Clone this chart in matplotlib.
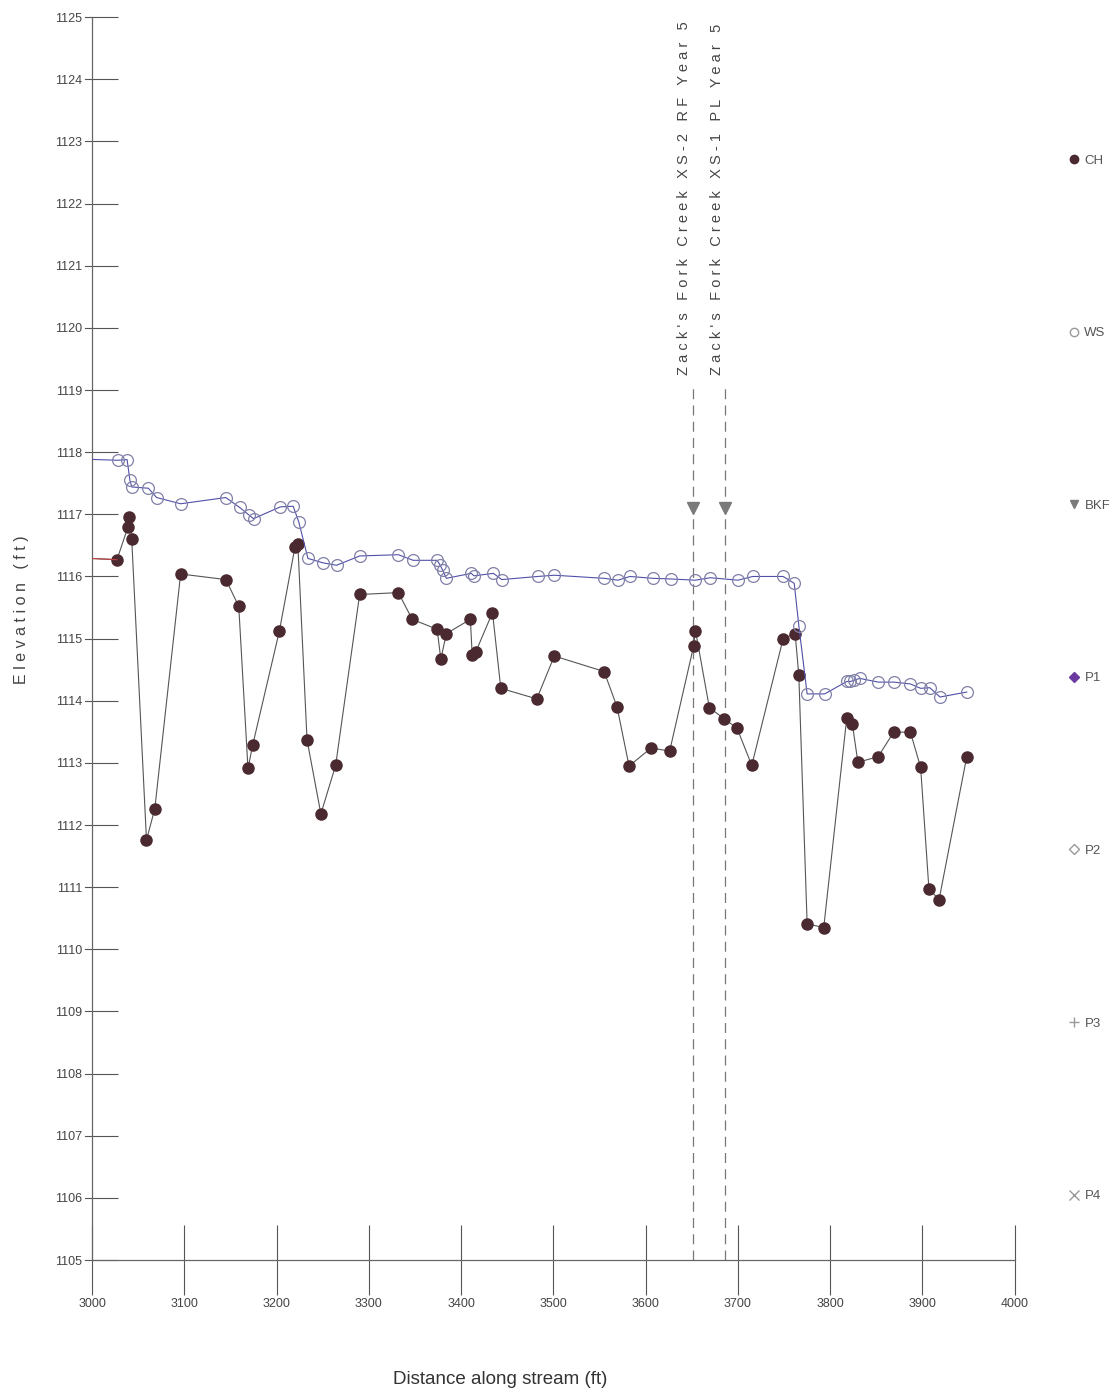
import matplotlib
matplotlib.use("Agg")
import matplotlib.pyplot as plt
from matplotlib import font_manager
from matplotlib.lines import Line2D

# Channel bed (CH) profile
ch_x = [2985, 3027, 3039, 3040, 3043, 3059, 3068, 3096, 3145, 3159, 3169, 3174,
        3203, 3220, 3223, 3233, 3248, 3264, 3290, 3332, 3347, 3374, 3378, 3384,
        3410, 3412, 3416, 3434, 3443, 3482, 3501, 3555, 3569, 3582, 3606, 3626,
        3652, 3654, 3669, 3685, 3699, 3715, 3749, 3762, 3766, 3775, 3793, 3818,
        3824, 3830, 3852, 3869, 3887, 3898, 3907, 3918, 3948]
ch_y = [1116.3, 1116.27, 1116.8, 1116.96, 1116.6, 1111.76, 1112.26, 1116.04,
        1115.95, 1115.52, 1112.91, 1113.28, 1115.12, 1116.48, 1116.53, 1113.37,
        1112.18, 1112.96, 1115.71, 1115.74, 1115.31, 1115.15, 1114.67, 1115.08,
        1115.31, 1114.74, 1114.79, 1115.42, 1114.2, 1114.03, 1114.72, 1114.47,
        1113.9, 1112.95, 1113.24, 1113.19, 1114.88, 1115.13, 1113.89, 1113.71,
        1113.56, 1112.96, 1115.0, 1115.08, 1114.41, 1110.41, 1110.35, 1113.73,
        1113.63, 1113.01, 1113.1, 1113.5, 1113.49, 1112.93, 1110.97, 1110.8,
        1113.1]

# Water surface (WS) profile
ws_x = [2985, 3028, 3038, 3041, 3043, 3061, 3070, 3096, 3145, 3160, 3170, 3175,
        3204, 3218, 3224, 3234, 3250, 3265, 3290, 3332, 3348, 3374, 3377, 3380,
        3384, 3411, 3414, 3435, 3444, 3483, 3501, 3555, 3570, 3583, 3608, 3627,
        3654, 3670, 3700, 3716, 3749, 3761, 3766, 3775, 3794, 3818, 3822, 3826,
        3832, 3852, 3869, 3887, 3898, 3908, 3919, 3948]
ws_y = [1117.89, 1117.87, 1117.88, 1117.55, 1117.44, 1117.42, 1117.27, 1117.17,
        1117.27, 1117.11, 1116.99, 1116.93, 1117.12, 1117.13, 1116.88, 1116.29,
        1116.22, 1116.18, 1116.33, 1116.35, 1116.26, 1116.26, 1116.19, 1116.1,
        1115.97, 1116.05, 1116.01, 1116.05, 1115.95, 1116.0, 1116.02, 1115.97,
        1115.94, 1116.0, 1115.97, 1115.96, 1115.94, 1115.98, 1115.94, 1116.0,
        1116.0, 1115.89, 1115.21, 1114.11, 1114.11, 1114.31, 1114.31, 1114.33,
        1114.36, 1114.3, 1114.3, 1114.27, 1114.2, 1114.21, 1114.06, 1114.14]

# Bankfull markers at the surveyed cross sections
xs_x = [3651, 3686]
xs_bkf = [1117.1, 1117.1]
xs_labels = ["Zack's Fork Creek XS-2 RF Year 5", "Zack's Fork Creek XS-1 PL Year 5"]

legend_labels = ["CH", "WS", "BKF", "P1", "P2", "P3", "P4"]
x_ticks = list(range(3000, 4001, 100))
y_ticks = list(range(1105, 1126))


def pick_font(names):
    for n in names:
        try:
            font_manager.findfont(n, fallback_to_default=False)
            return n
        except Exception:
            pass
    return "DejaVu Sans"


narrow = pick_font(["Liberation Sans Narrow", "Arial Narrow", "Liberation Sans"])
plt.rcParams["font.family"] = [narrow, "DejaVu Sans"]


def spaced(s):
    return " ".join(s)


fig = plt.figure(figsize=(11.09, 13.98), dpi=100)
ax = fig.add_axes([0.083, 0.0987, 0.832, 0.889])

ch_col = "#4a2a30"
ax.plot(ch_x, ch_y, color="#555555", lw=0.8, marker="o", ms=8,
        mfc=ch_col, mec=ch_col, zorder=3, clip_on=True)
ax.plot(ch_x[:2], ch_y[:2], color="#c04040", lw=0.8, zorder=3)
ax.plot(ws_x, ws_y, color="#5050a8", lw=0.8, marker="o", ms=8.5,
        mfc="none", mec="#8080a8", mew=0.9, zorder=3)

for x, b, lab in zip(xs_x, xs_bkf, xs_labels):
    ax.plot([x, x], [1105, 1119.1], color="#777777", lw=0.9,
            ls=(0, (8, 5)), zorder=2)
    ax.plot([x], [b], marker="v", ms=9, color="#7a7a7a", zorder=4)
    ax.text(x - 9, 1119.25, spaced(lab), rotation=90, ha="center",
            va="bottom", fontsize=10.5, color="#444444")

ax.set_xlim(3000, 4000)
ax.set_ylim(1105, 1125)
ax.set_xticks(x_ticks)
ax.set_yticks(y_ticks)
ax.tick_params(axis="x", direction="inout", length=50, width=0.8,
               color="#555555", labelsize=9, labelcolor="#444444", pad=2)
ax.tick_params(axis="y", direction="in", length=19, width=0.8,
               color="#555555", labelsize=9, labelcolor="#444444", pad=7)
for s in ["top", "right"]:
    ax.spines[s].set_visible(False)
for s in ["left", "bottom"]:
    ax.spines[s].set_color("#666666")
    ax.spines[s].set_linewidth(0.9)
# short outward stubs on the elevation ticks
for y in y_ticks:
    ax.plot([-0.008, 0], [y, y], transform=ax.get_yaxis_transform(),
            color="#555555", lw=0.8, clip_on=False)

fig.text(22 / 1109, 1 - 610 / 1398, spaced("Elevation (ft)"), rotation=90,
         ha="center", va="center", fontsize=11.5, color="#444444")
fig.text(500 / 1109, 1 - 1380 / 1398, "Distance along stream (ft)",
         ha="center", va="center", fontsize=13.5, color="#333333")

# legend column on the right
handles = [
    Line2D([], [], ls="none", marker="o", ms=6, mfc=ch_col, mec=ch_col),
    Line2D([], [], ls="none", marker="o", ms=6, mfc="none", mec="#999999"),
    Line2D([], [], ls="none", marker="v", ms=6, color="#7a7a7a"),
    Line2D([], [], ls="none", marker="D", ms=5, color="#6a3aa0"),
    Line2D([], [], ls="none", marker="D", ms=5, mfc="none", mec="#999999"),
    Line2D([], [], ls="none", marker="+", ms=7, color="#999999"),
    Line2D([], [], ls="none", marker="x", ms=7, color="#999999"),
]
leg = fig.legend(handles, legend_labels, loc="upper left",
                 bbox_to_anchor=(1062 / 1109, 1 - 148 / 1398), frameon=False,
                 fontsize=9.5, labelspacing=12.15, handlelength=0.8,
                 handletextpad=0.4, borderpad=0)
for t in leg.get_texts():
    t.set_color("#555555")

fig.savefig("out.png", dpi=100)
